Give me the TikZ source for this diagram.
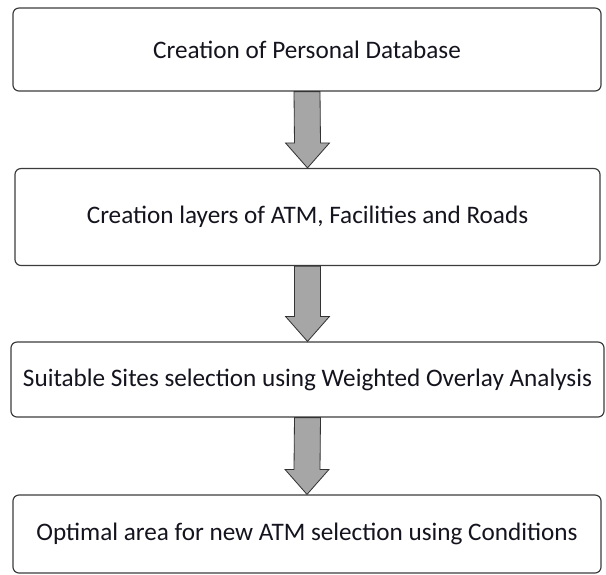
\documentclass[tikz,border=0pt]{standalone}
\usepackage{fontspec}
\setmainfont{Carlito}
\usepackage{tikz}
\usetikzlibrary{calc, positioning, arrows.meta}
\usepackage{xcolor}
\definecolor{boxline}{RGB}{60, 60, 60}
\definecolor{arrowfill}{RGB}{166, 166, 166}
\definecolor{textdark}{RGB}{20, 20, 30}

\tikzset{
  stage/.style={draw=boxline, line width=1pt, rounded corners=0.18cm, fill=white,
    text=textdark, font=\fontsize{21.5}{26}\selectfont, align=center,
    minimum width=17.64cm, inner sep=0pt},
  blockarrow/.style={draw=black!80, line width=0.7pt, fill=arrowfill, line join=miter}
}

\begin{document}
\begin{tikzpicture}[x=0.03cm, y=-0.03cm]
  \useasboundingbox (0,0) rectangle (606,574);

  % the four stages
  \node[stage, minimum height=2.49cm] (db) at (307, 49.5) {Creation of Personal Database};
  \node[stage, minimum height=2.91cm, minimum width=17.55cm] (layers) at (307.5, 217) {Creation layers of ATM, Facilities and Roads};
  \node[stage, minimum height=2.25cm, minimum width=17.79cm] (sites) at (307.5, 379.5) {Suitable Sites selection using Weighted Overlay Analysis};
  \node[stage, minimum height=2.34cm] (optimal) at (307, 534) {Optimal area for new ATM selection using Conditions};

  % gray block arrows between stages
  \foreach \a/\b in {db/layers, layers/sites, sites/optimal} {
    \draw[blockarrow]
      ($(\a.south)+(-13,0)$) -- ($(\a.south)+(13,0)$)
      -- ($(\b.north)+(13,-25)$) -- ($(\b.north)+(22,-25)$)
      -- (\b.north)
      -- ($(\b.north)+(-22,-25)$) -- ($(\b.north)+(-13,-25)$) -- cycle;
  }
\end{tikzpicture}
\end{document}
